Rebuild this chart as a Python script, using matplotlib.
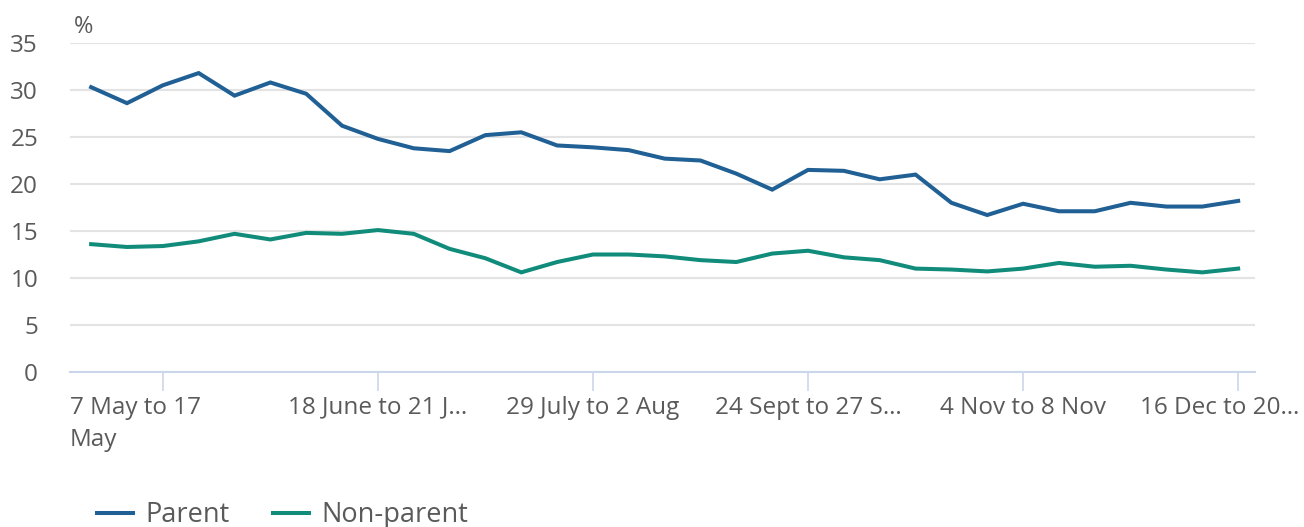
import numpy as np
import matplotlib
matplotlib.use("Agg")
import matplotlib.pyplot as plt
import matplotlib.transforms as mtransforms

plt.rcParams['font.family'] = ['Open Sans', 'DejaVu Sans']

# weekly survey periods, 33 in total; only every sixth one is labelled
parent = [30.3, 28.6, 30.5, 31.8, 29.4, 30.8, 29.6, 26.2, 24.8, 23.8, 23.5,
          25.2, 25.5, 24.1, 23.9, 23.6, 22.7, 22.5, 21.1, 19.4, 21.5, 21.4,
          20.5, 21.0, 18.0, 16.7, 17.9, 17.1, 17.1, 18.0, 17.6, 17.6, 18.2]
non_parent = [13.6, 13.3, 13.4, 13.9, 14.7, 14.1, 14.8, 14.7, 15.1, 14.7, 13.1,
              12.1, 10.6, 11.7, 12.5, 12.5, 12.3, 11.9, 11.7, 12.6, 12.9, 12.2,
              11.9, 11.0, 10.9, 10.7, 11.0, 11.6, 11.2, 11.3, 10.9, 10.6, 11.0]
tick_pos = [2, 8, 14, 20, 26, 32]
tick_labels = ["7 May to 17\nMay", "18 June to 21 J\u2026", "29 July to 2 Aug",
               "24 Sept to 27 S\u2026", "4 Nov to 8 Nov", "16 Dec to 20\u2026"]

blue = '#206095'
green = '#118c7b'
grey_txt = '#5a5a5a'

fig = plt.figure(figsize=(13.04, 5.27), dpi=100)
ax = fig.add_axes([70/1304, 1-372/527, (1255-70)/1304, (372-43)/527])

x = np.arange(len(parent))
ax.plot(x, parent, color=blue, lw=2.9, label='Parent', solid_joinstyle='miter')
ax.plot(x, non_parent, color=green, lw=2.9, label='Non-parent', solid_joinstyle='miter')

ax.set_ylim(0, 35)
ax.set_xlim(-0.59, 32.47)
ax.set_yticks(range(0, 36, 5))
ax.yaxis.grid(True, color='#e3e3e3', lw=1.5)
ax.set_axisbelow(True)
for s in ['top', 'right', 'left']:
    ax.spines[s].set_visible(False)
ax.spines['bottom'].set_color('#ccd6eb')
ax.spines['bottom'].set_linewidth(1.5)
ax.spines['bottom'].set_zorder(1)

ax.set_xticks(tick_pos)
ax.set_xticklabels(tick_labels, linespacing=1.45)
ax.tick_params(axis='x', length=14, width=1.2, color='#ccd6eb', pad=3,
               labelsize=17.5, labelcolor=grey_txt)
ax.tick_params(axis='y', length=0, pad=23, labelsize=17.5, labelcolor=grey_txt)

# first and last labels are nudged inwards so they stay inside the figure
labels = ax.get_xticklabels()
first = labels[0]
first.set_horizontalalignment('left')
first.set_multialignment('left')
first.set_transform(first.get_transform() +
                    mtransforms.ScaledTranslation(-0.93, 0, fig.dpi_scale_trans))
last = labels[-1]
last.set_transform(last.get_transform() +
                   mtransforms.ScaledTranslation(-0.18, 0, fig.dpi_scale_trans))

fig.text(74/1304, 1-27/527, '%', fontsize=17, color=grey_txt, va='center')

fig.legend(loc='center left', bbox_to_anchor=(97/1304, 1-515/527), ncol=2,
           frameon=False, fontsize=19.5, handlelength=1.33, handletextpad=0.44,
           columnspacing=1.63, borderpad=0, borderaxespad=0, labelcolor=grey_txt)

fig.savefig('out.png', dpi=100)
